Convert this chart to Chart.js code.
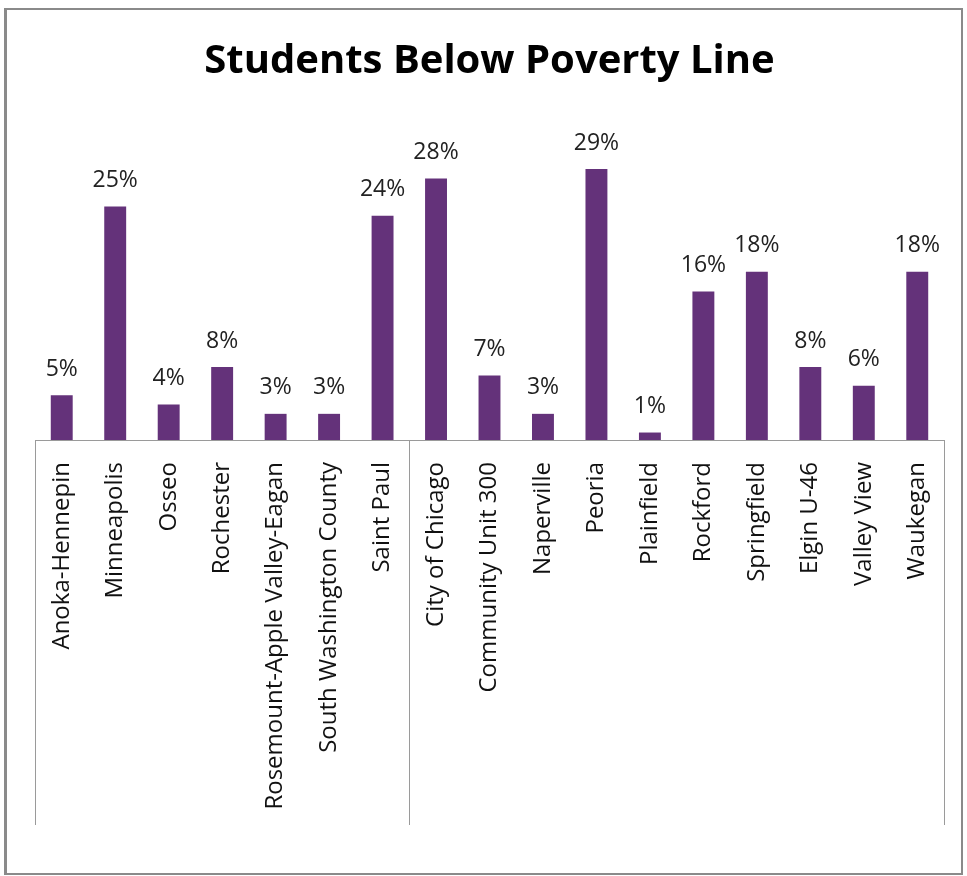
<!DOCTYPE html>
<html>
<head>
<meta charset="utf-8">
<script src="https://cdn.jsdelivr.net/npm/chart.js@4.4.0/dist/chart.umd.min.js"></script>
<style>
  html, body { margin: 0; padding: 0; background: #fff; }
  #wrap { position: relative; width: 967px; height: 876px; }
  #frame { position: absolute; left: 4px; top: 8px; width: 954px; height: 863px;
           border: 2px solid #8a8a8a; border-left-width: 3px; pointer-events: none; }
</style>
</head>
<body>
<div id="wrap">
  <canvas id="chart" width="967" height="876"></canvas>
  <div id="frame"></div>
</div>
<script>
// Categorias (distritos) e valores (%)
const districts = [
    'Anoka-Hennepin', 'Minneapolis', 'Osseo', 'Rochester',
    'Rosemount-Apple Valley-Eagan', 'South Washington County', 'Saint Paul',
    'City of Chicago', 'Community Unit 300', 'Naperville', 'Peoria',
    'Plainfield', 'Rockford', 'Springfield', 'Elgin U-46', 'Valley View', 'Waukegan'
];
const povertyPct = [4.8, 25, 3.8, 7.8, 2.8, 2.8, 24, 28, 6.9, 2.8, 29, 0.8, 15.9, 18, 7.8, 5.8, 18];
// Grupos do eixo (primeiro índice de cada grupo)
const groupStarts = [0, 7];

const barColor = '#64327A';
const labelFont = "'Open Sans', 'DejaVu Sans', sans-serif";

// Rótulos de valor acima das barras
const valueLabels = {
    id: 'valueLabels',
    afterDatasetsDraw(chart) {
        const ctx = chart.ctx;
        const meta = chart.getDatasetMeta(0);
        ctx.save();
        ctx.font = '23px ' + labelFont;
        ctx.fillStyle = '#222';
        ctx.textAlign = 'center';
        ctx.textBaseline = 'middle';
        meta.data.forEach((bar, i) => {
            ctx.fillText(Math.round(povertyPct[i]) + '%', bar.x, bar.y - 26);
        });
        ctx.restore();
    }
};

// Linhas verticais do eixo de categorias em dois níveis
const groupLines = {
    id: 'groupLines',
    afterDraw(chart) {
        const ctx = chart.ctx;
        const x = chart.scales.x;
        const area = chart.chartArea;
        const half = (x.getPixelForValue(1) - x.getPixelForValue(0)) / 2;
        const xs = groupStarts.map(i => x.getPixelForValue(i) - half);
        xs.push(x.getPixelForValue(districts.length - 1) + half);
        ctx.save();
        ctx.strokeStyle = '#9a9a9a';
        ctx.lineWidth = 1;
        xs.forEach(px => {
            const p = Math.round(px) + 0.5;
            ctx.beginPath();
            ctx.moveTo(p, area.bottom);
            ctx.lineTo(p, 825);
            ctx.stroke();
        });
        ctx.restore();
    }
};

new Chart(document.getElementById('chart').getContext('2d'), {
    type: 'bar',
    data: {
        labels: districts,
        datasets: [{
            data: povertyPct,
            backgroundColor: barColor,
            categoryPercentage: 1,
            barPercentage: 0.41
        }]
    },
    options: {
        responsive: false,
        animation: false,
        layout: { padding: { left: 35, right: 23, top: 0, bottom: 0 } },
        plugins: {
            legend: { display: false },
            tooltip: { enabled: false },
            title: {
                display: true,
                text: 'Students Below Poverty Line',
                color: '#000',
                font: { family: "'Open Sans', sans-serif", size: 40, weight: 'bold' },
                padding: { top: 38, bottom: 55 }
            }
        },
        scales: {
            x: {
                grid: { display: false },
                border: { display: true, color: '#9a9a9a', width: 1 },
                ticks: {
                    color: '#111',
                    font: { family: labelFont, size: 24 },
                    minRotation: 90,
                    maxRotation: 90,
                    autoSkip: false,
                    padding: 14
                },
                afterFit(scale) { scale.height = 436; }
            },
            y: {
                display: false,
                min: 0,
                max: 32
            }
        }
    },
    plugins: [valueLabels, groupLines]
});
</script>
</body>
</html>
